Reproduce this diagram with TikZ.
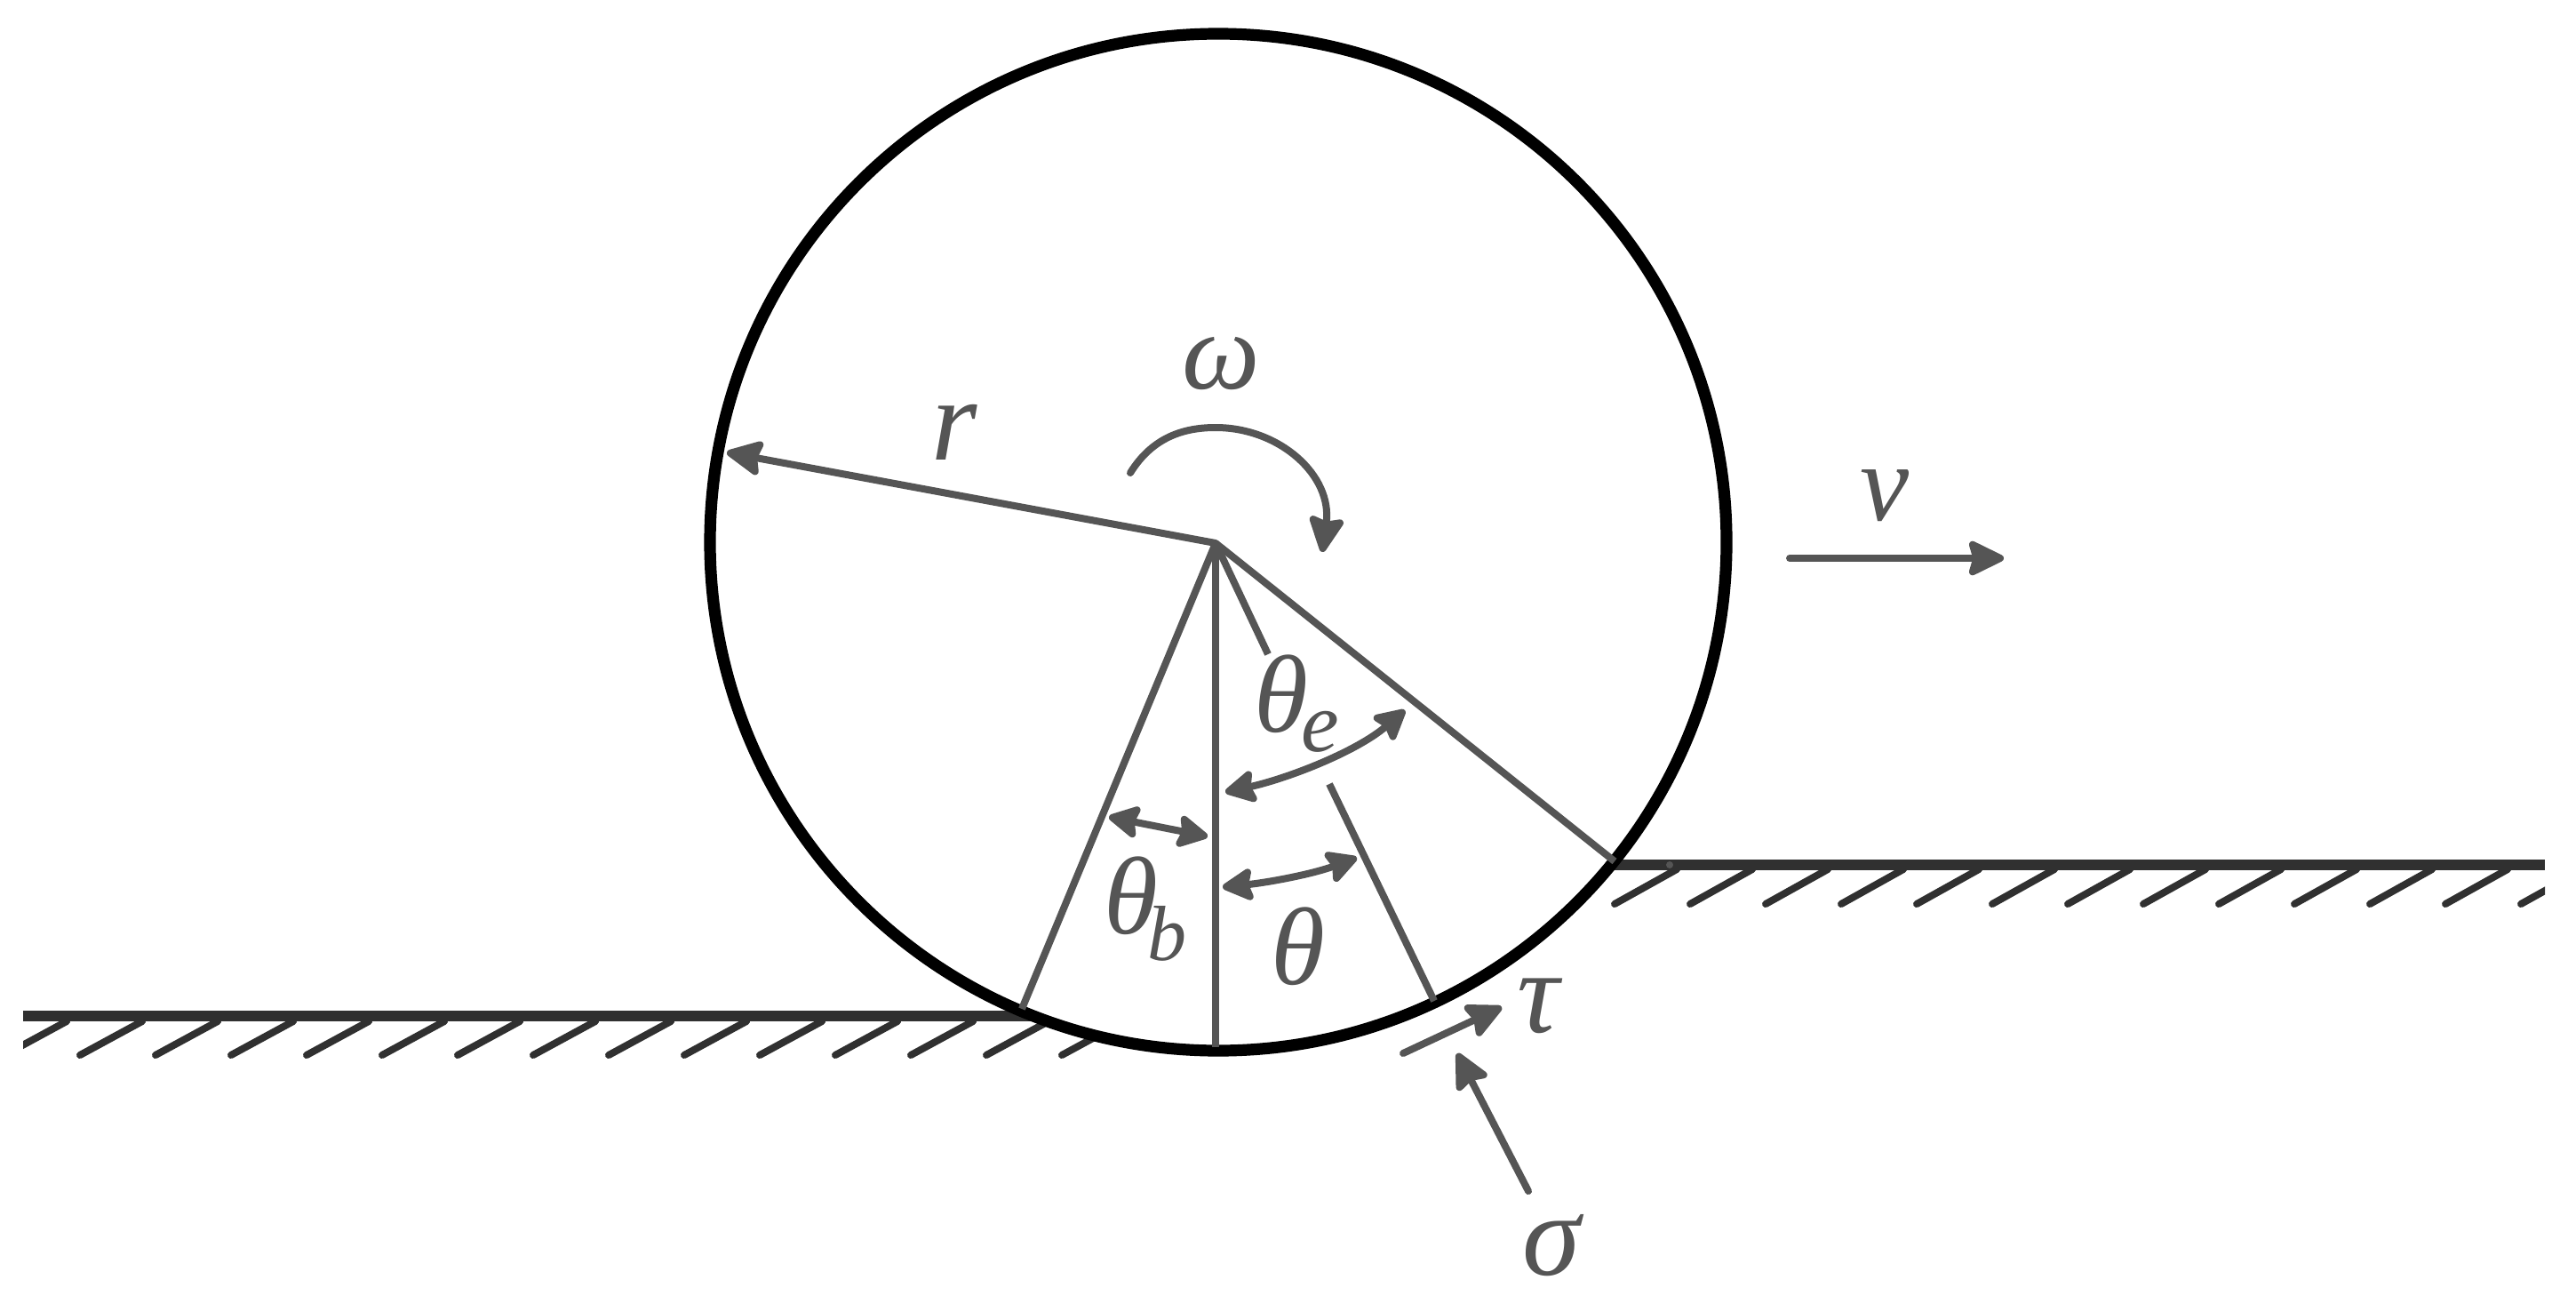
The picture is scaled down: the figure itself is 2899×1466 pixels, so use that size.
\documentclass[tikz,border=0pt]{standalone}
\usepackage{fontspec}
\setmainfont{Liberation Serif}
\usetikzlibrary{arrows.meta}
\definecolor{gl}{HTML}{555555}
\definecolor{gd}{HTML}{303030}
\newcommand{\lab}[1]{\fontsize{66}{66}\selectfont\itshape #1}
\newcommand{\labm}[1]{\fontsize{62}{62}\selectfont\itshape #1}
\newcommand{\subl}[4]{\kern#1\raisebox{#2}{\fontsize{#3}{#3}\selectfont\itshape #4}}
\tikzset{
  gline/.style={draw=gl,line width=4pt},
  bigtip/.style={gline,line cap=round,-{Stealth[length=23pt,width=22pt,inset=3pt,round]}},
  dbltip/.style={gline,{Stealth[length=20pt,width=21pt,inset=3pt,round]}-{Stealth[length=20pt,width=21pt,inset=3pt,round]}},
  ground/.style={draw=gd,line width=6pt},
  hatch/.style={draw=gd,line width=4pt,line cap=round},
  wheel/.style={draw=black,line width=6.6pt,fill=white},
  lbl/.style={text=gl,inner sep=0pt,anchor=center},
  lblb/.style={text=gl,inner sep=0pt,anchor=base west},
}
\begin{document}
\begin{tikzpicture}[x=0.5pt,y=-0.5pt]
\useasboundingbox (0,0) rectangle (2899,1466);
\coordinate (hub) at (1368,611);
% ground
\begin{scope}
\clip (26,1100) rectangle (1400,1250);
\foreach \k in {-1,...,13}{
  \draw[hatch] ({90+85*\k},1187) -- ({160+85*\k},1149);
}
\end{scope}
\coordinate (gla) at (26,1143);
\coordinate (glb) at (1200,1143);
\draw[ground] (gla) -- (glb);
\begin{scope}
\clip (1780,950) rectangle (2864,1050);
\foreach \k in {0,...,13}{
  \draw[hatch] ({1817+85*\k},1017) -- ({1887+85*\k},978);
}
\end{scope}
\coordinate (gra) at (1800,973);
\coordinate (grb) at (2864,973);
\draw[ground] (gra) -- (grb);
\fill[gl] (1879,973) circle[radius=4];
% wheel
\coordinate (wc) at (1371,610);
\draw[wheel] (wc) circle[radius=572];
% radii
\coordinate (pb) at (1150,1135);
\coordinate (pm) at (1368,1178);
\coordinate (pe) at (1817,969);
\coordinate (ps) at (1427,736);
\coordinate (qa) at (1496,882);
\coordinate (qb) at (1614,1126);
\draw[gline] (hub) -- (pb);
\draw[gline] (hub) -- (pm);
\draw[gline] (hub) -- (pe);
\draw[gline] (hub) -- (ps);
\draw[gline] (qa) -- (qb);
% arrows
\coordinate (rt) at (818,509);
\draw[bigtip] (hub) -- (rt);
\coordinate (wa) at (1272,532);
\coordinate (wt) at (1368,481);
\coordinate (wb) at (1488,621);
\draw[bigtip] (wa) .. controls (1298,490) and (1335,481) .. (wt) .. controls (1440,481) and (1500,535) .. (wb);
\coordinate (va) at (2014,628);
\coordinate (vb) at (2255,628);
\draw[bigtip] (va) -- (vb);
\coordinate (ta) at (1579,1185);
\coordinate (tb) at (1690,1133);
\draw[bigtip] (ta) -- (tb);
\coordinate (sa) at (1720,1340);
\coordinate (sb) at (1640,1185);
\draw[bigtip] (sa) -- (sb);
\coordinate (ea) at (1379,891);
\coordinate (eb) at (1581,799);
\draw[dbltip] (ea) .. controls (1445,877) and (1525,847) .. (eb);
\coordinate (ba) at (1248,919);
\coordinate (bb) at (1359,941);
\draw[dbltip] (ba) -- (bb);
\coordinate (ca) at (1376,998);
\coordinate (cb) at (1527,965);
\draw[dbltip] (ca) .. controls (1425,993) and (1475,984) .. (cb);
% labels
\node[lbl] (lw) at (1374,409) {\labm{ω}};
\node[lbl] (lr) at (1074,486) {\lab{r}};
\node[lbl] (lv) at (2121,558) {\labm{v}};
\node[lblb] (lte) at (1411,823) {\labm{θ}\subl{-4pt}{-11pt}{48}{e}};
\node[lblb] (ltb) at (1242,1050) {\labm{θ}\subl{-6pt}{-15pt}{44}{b}};
\node[lblb] (lt) at (1430,1107) {\labm{θ}};
\node[lbl] (ltau) at (1731,1132) {\lab{τ}};
\node[lbl] (lsig) at (1746,1401) {\lab{σ}};
\end{tikzpicture}
\end{document}
